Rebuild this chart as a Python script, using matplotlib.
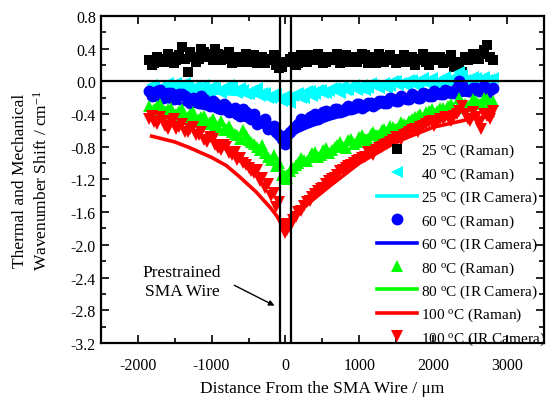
import matplotlib
matplotlib.use("Agg")
import matplotlib.pyplot as plt
from matplotlib.ticker import MultipleLocator
from matplotlib.lines import Line2D

plt.rcParams['font.family'] = ['Liberation Serif', 'DejaVu Serif']
plt.rcParams['mathtext.fontset'] = 'custom'
plt.rcParams['mathtext.rm'] = 'Liberation Serif'
plt.rcParams['mathtext.it'] = 'Liberation Serif:italic'
plt.rcParams['axes.unicode_minus'] = False

# ---------------- data ----------------
# Raman measurements, scan A
x_raman = [-1850, -1775, -1700, -1625, -1550, -1475, -1400, -1325, -1250, -1175,
           -1100, -1025, -950, -875, -800, -725, -650, -575, -500, -425,
           -350, -275, -200, -125, -50, 25, 100, 175, 250, 325,
           400, 475, 550, 625, 700, 775, 850, 925, 1000, 1075,
           1150, 1225, 1300, 1375, 1450, 1525, 1600, 1675, 1750, 1825,
           1900, 1975, 2050, 2125, 2200, 2275, 2350, 2425, 2500, 2575,
           2650, 2725, 2800]

y_25_raman = [0.26, 0.22, 0.28, 0.24, 0.30, 0.26, 0.42, 0.12, 0.30, 0.28,
              0.36, 0.34, 0.40, 0.26, 0.32, 0.22, 0.30, 0.28, 0.24, 0.32,
              0.26, 0.22, 0.28, 0.20, 0.18, 0.24, 0.30, 0.22, 0.28, 0.32,
              0.26, 0.30, 0.24, 0.28, 0.34, 0.26, 0.24, 0.30, 0.28, 0.32,
              0.26, 0.22, 0.30, 0.26, 0.28, 0.24, 0.32, 0.26, 0.20, 0.28,
              0.24, 0.30, 0.26, 0.22, 0.28, 0.18, 0.24, 0.30, 0.28, 0.32,
              0.34, 0.44, 0.26]

y_40_raman = [-0.10, -0.06, -0.12, -0.04, -0.08, -0.02, -0.10, -0.06, -0.12, -0.08,
              -0.04, -0.12, -0.08, -0.14, -0.10, -0.06, -0.14, -0.10, -0.16, -0.12,
              -0.18, -0.14, -0.20, -0.16, -0.24, -0.20, -0.18, -0.14, -0.20, -0.12,
              -0.16, -0.10, -0.14, -0.08, -0.12, -0.06, -0.10, -0.04, -0.08, -0.10,
              -0.02, -0.06, -0.04, -0.08, 0.00, -0.04, -0.02, 0.02, -0.04, 0.00,
              -0.02, 0.04, -0.02, 0.02, 0.00, 0.06, 0.12, 0.02, -0.02, 0.04,
              0.00, 0.02, 0.04]

y_60_raman = [-0.12, -0.16, -0.10, -0.18, -0.14, -0.20, -0.16, -0.24, -0.20, -0.26,
              -0.22, -0.30, -0.26, -0.34, -0.30, -0.36, -0.40, -0.34, -0.44, -0.40,
              -0.50, -0.46, -0.56, -0.62, -0.70, -0.66, -0.58, -0.52, -0.48, -0.44,
              -0.40, -0.42, -0.36, -0.38, -0.34, -0.36, -0.30, -0.32, -0.28, -0.30,
              -0.26, -0.28, -0.24, -0.26, -0.22, -0.24, -0.20, -0.22, -0.18, -0.20,
              -0.16, -0.18, -0.14, -0.16, -0.12, -0.14, 0.00, -0.10, -0.12, -0.08,
              -0.10, -0.14, -0.08]

y_80_raman = [-0.30, -0.34, -0.28, -0.36, -0.32, -0.40, -0.34, -0.44, -0.38, -0.46,
              -0.42, -0.50, -0.54, -0.48, -0.58, -0.62, -0.66, -0.60, -0.72, -0.76,
              -0.84, -0.88, -0.96, -1.04, -1.14, -1.18, -1.06, -1.00, -0.96, -0.92,
              -0.86, -0.90, -0.82, -0.84, -0.78, -0.80, -0.72, -0.76, -0.68, -0.70,
              -0.64, -0.66, -0.60, -0.62, -0.56, -0.58, -0.52, -0.48, -0.44, -0.40,
              -0.38, -0.34, -0.36, -0.32, -0.30, -0.34, -0.20, -0.28, -0.30, -0.24,
              -0.28, -0.22, -0.24]

y_100_raman = [-0.46, -0.50, -0.44, -0.54, -0.48, -0.58, -0.52, -0.62, -0.56, -0.66,
               -0.72, -0.68, -0.78, -0.84, -0.80, -0.90, -0.96, -1.00, -1.06, -1.12,
               -1.22, -1.30, -1.40, -1.54, -1.74, -1.82, -1.70, -1.60, -1.52, -1.46,
               -1.38, -1.32, -1.26, -1.20, -1.14, -1.08, -1.04, -1.00, -0.96, -0.92,
               -0.88, -0.84, -0.80, -0.76, -0.72, -0.70, -0.66, -0.62, -0.58, -0.56,
               -0.52, -0.48, -0.50, -0.46, -0.44, -0.42, -0.36, -0.40, -0.48, -0.44,
               -0.58, -0.42, -0.36]

# Raman measurements, scan B (interleaved positions)
x_raman_b = [-1812, -1737, -1662, -1587, -1512, -1437, -1362, -1287, -1212, -1137,
             -1062, -987, -912, -837, -762, -687, -612, -537, -462, -387,
             -312, -237, -162, -87, -12, 63, 138, 213, 288, 363,
             438, 513, 588, 663, 738, 813, 888, 963, 1038, 1113,
             1188, 1263, 1338, 1413, 1488, 1563, 1638, 1713, 1788, 1863,
             1938, 2013, 2088, 2163, 2238, 2313, 2388, 2463, 2538, 2613,
             2688, 2763]

y_25_raman_b = [0.20, 0.30, 0.24, 0.34, 0.22, 0.32, 0.28, 0.36, 0.24, 0.40,
                0.30, 0.26, 0.34, 0.28, 0.36, 0.30, 0.24, 0.34, 0.28, 0.22,
                0.30, 0.26, 0.32, 0.16, 0.24, 0.28, 0.20, 0.32, 0.24, 0.30,
                0.34, 0.22, 0.30, 0.26, 0.22, 0.32, 0.28, 0.24, 0.34, 0.22,
                0.30, 0.34, 0.24, 0.32, 0.22, 0.28, 0.24, 0.30, 0.26, 0.34,
                0.20, 0.26, 0.30, 0.24, 0.32, 0.22, 0.12, 0.26, 0.34, 0.28,
                0.38, 0.30]

y_40_raman_b = [-0.04, -0.12, -0.08, -0.02, -0.10, -0.06, -0.02, -0.12, -0.06, -0.10,
                -0.14, -0.06, -0.12, -0.08, -0.04, -0.12, -0.08, -0.16, -0.12, -0.08,
                -0.14, -0.20, -0.16, -0.22, -0.18, -0.26, -0.16, -0.20, -0.12, -0.18,
                -0.10, -0.14, -0.12, -0.08, -0.14, -0.10, -0.06, -0.10, -0.04, -0.08,
                -0.04, -0.08, -0.02, -0.06, 0.00, -0.02, -0.06, 0.02, -0.02, 0.04,
                0.00, -0.04, 0.02, 0.06, -0.02, 0.04, 0.08, 0.00, 0.06, 0.02,
                0.06, 0.00]

y_60_raman_b = [-0.18, -0.12, -0.20, -0.14, -0.22, -0.16, -0.18, -0.26, -0.22, -0.18,
                -0.28, -0.24, -0.32, -0.28, -0.38, -0.32, -0.42, -0.38, -0.46, -0.52,
                -0.48, -0.58, -0.54, -0.66, -0.76, -0.62, -0.54, -0.46, -0.50, -0.42,
                -0.46, -0.38, -0.40, -0.34, -0.38, -0.32, -0.34, -0.28, -0.32, -0.26,
                -0.30, -0.24, -0.26, -0.20, -0.24, -0.18, -0.22, -0.16, -0.20, -0.14,
                -0.18, -0.12, -0.16, -0.10, -0.14, -0.08, -0.04, -0.12, -0.08, -0.12,
                -0.06, -0.10]

y_80_raman_b = [-0.36, -0.30, -0.38, -0.34, -0.42, -0.36, -0.46, -0.40, -0.48, -0.44,
                -0.52, -0.46, -0.56, -0.60, -0.54, -0.64, -0.70, -0.66, -0.74, -0.80,
                -0.78, -0.92, -0.90, -1.00, -1.20, -1.10, -1.02, -0.94, -0.98, -0.88,
                -0.92, -0.84, -0.88, -0.80, -0.74, -0.82, -0.70, -0.74, -0.66, -0.72,
                -0.62, -0.68, -0.58, -0.54, -0.60, -0.50, -0.54, -0.46, -0.42, -0.46,
                -0.36, -0.40, -0.32, -0.36, -0.28, -0.32, -0.26, -0.30, -0.22, -0.28,
                -0.20, -0.26]

y_100_raman_b = [-0.42, -0.52, -0.48, -0.58, -0.46, -0.56, -0.62, -0.58, -0.66, -0.62,
                 -0.74, -0.70, -0.82, -0.78, -0.88, -0.86, -0.94, -1.02, -1.10, -1.08,
                 -1.18, -1.26, -1.36, -1.48, -1.86, -1.78, -1.66, -1.58, -1.48, -1.42,
                 -1.34, -1.30, -1.22, -1.18, -1.10, -1.06, -1.02, -0.98, -0.94, -0.86,
                 -0.90, -0.82, -0.78, -0.74, -0.68, -0.72, -0.64, -0.60, -0.62, -0.54,
                 -0.50, -0.54, -0.46, -0.44, -0.48, -0.40, -0.30, -0.46, -0.38, -0.52,
                 -0.40, -0.46]

# IR camera profiles
x_ir = [-1810, -1500, -1300, -1000, -800, -630, -400, -200, -90,
        0, 100, 300, 600, 1000, 1500, 2000, 2500, 2800]
y_25_ir = [-0.12, -0.12, -0.13, -0.14, -0.15, -0.16, -0.17, -0.19, -0.20,
           -0.20, -0.19, -0.17, -0.14, -0.09, -0.05, -0.02, 0.00, 0.01]
y_60_ir = [-0.22, -0.26, -0.29, -0.35, -0.40, -0.45, -0.52, -0.60, -0.66,
           -0.68, -0.64, -0.56, -0.46, -0.36, -0.27, -0.20, -0.16, -0.14]
y_80_ir = [-0.36, -0.42, -0.47, -0.56, -0.64, -0.72, -0.84, -0.98, -1.08,
           -1.12, -1.06, -0.96, -0.86, -0.70, -0.54, -0.38, -0.30, -0.26]
y_100_ir = [-0.67, -0.74, -0.81, -0.93, -1.03, -1.16, -1.35, -1.55, -1.68,
            -1.72, -1.66, -1.50, -1.28, -1.00, -0.74, -0.56, -0.46, -0.42]

wire_edges = [-70, 75]

# ---------------- plot ----------------
fig = plt.figure(figsize=(5.47, 4.06), dpi=100)
ax = fig.add_axes([0.184, 0.153, 0.811, 0.805])

lw_ir = 2.6
ax.plot(x_ir, y_25_ir, color='#00FFFF', lw=lw_ir, zorder=2)
ax.plot(x_ir, y_60_ir, color='#0000FF', lw=lw_ir, zorder=2)
ax.plot(x_ir, y_80_ir, color='#00FF00', lw=lw_ir, zorder=2)
ax.plot(x_ir, y_100_ir, color='#FF0000', lw=lw_ir, zorder=2)

styles = [
    (y_25_raman, y_25_raman_b, 's', 'black', 7.5),
    (y_40_raman, y_40_raman_b, '<', '#00FFFF', 9),
    (y_60_raman, y_60_raman_b, 'o', '#0000FF', 8.5),
    (y_80_raman, y_80_raman_b, '^', '#00FF00', 9),
    (y_100_raman, y_100_raman_b, 'v', '#FF0000', 9),
]
for ya, yb, mk, col, ms in styles:
    ax.plot(x_raman, ya, mk, color=col, ms=ms, mew=0, zorder=3)
    ax.plot(x_raman_b, yb, mk, color=col, ms=ms, mew=0, zorder=3)

for xe in wire_edges:
    ax.axvline(xe, color='black', lw=1.6, zorder=4)
ax.axhline(0, color='black', lw=1.6, zorder=4)

ax.set_xlim(-2500, 3500)
ax.set_ylim(-3.2, 0.8)
ax.xaxis.set_major_locator(MultipleLocator(1000))
ax.xaxis.set_minor_locator(MultipleLocator(500))
ax.yaxis.set_major_locator(MultipleLocator(0.4))
ax.yaxis.set_minor_locator(MultipleLocator(0.2))
ax.set_xticks([-2000, -1000, 0, 1000, 2000, 3000])
ax.set_yticks([0.8, 0.4, 0.0, -0.4, -0.8, -1.2, -1.6, -2.0, -2.4, -2.8, -3.2])
ax.set_yticklabels(['0.8', '0.4', '0.0', '-0.4', '-0.8', '-1.2', '-1.6', '-2.0',
                    '-2.4', '-2.8', '-3.2'])
ax.tick_params(which='both', direction='in', top=True, right=True, width=1.2,
               labelsize=11.5)
ax.tick_params(axis='x', which='major', pad=10)
ax.tick_params(which='major', length=6)
ax.tick_params(which='minor', length=3.5)
for s in ax.spines.values():
    s.set_linewidth(1.6)

ax.set_xlabel('Distance From the SMA Wire / \u03bcm', fontsize=12.5, labelpad=5)
ax.set_ylabel('Thermal and Mechanical\nWavenumber Shift / cm$^{-1}$',
              fontsize=12.5, labelpad=14, linespacing=1.35)

ax.annotate('', xy=(-115, -2.76), xytext=(-725, -2.48),
            arrowprops=dict(arrowstyle='-|>', color='black', lw=1,
                            mutation_scale=8), zorder=5)
ax.text(-1400, -2.45, 'Prestrained\nSMA Wire', ha='center', va='center',
        fontsize=12.5, linespacing=1.2)

# legend (order & labels as in the original figure)
handles = [
    Line2D([], [], ls='none', marker='s', color='black', ms=7.5, mew=0),
    Line2D([], [], ls='none', marker='<', color='#00FFFF', ms=9, mew=0),
    Line2D([], [], color='#00FFFF', lw=lw_ir),
    Line2D([], [], ls='none', marker='o', color='#0000FF', ms=8.5, mew=0),
    Line2D([], [], color='#0000FF', lw=lw_ir),
    Line2D([], [], ls='none', marker='^', color='#00FF00', ms=9, mew=0),
    Line2D([], [], color='#00FF00', lw=lw_ir),
    Line2D([], [], color='#FF0000', lw=lw_ir),
    Line2D([], [], ls='none', marker='v', color='#FF0000', ms=9, mew=0),
]
labels = [
    '25 $^{\\rm o}$C (Raman)',
    '40 $^{\\rm o}$C (Raman)',
    '25 $^{\\rm o}$C (IR Camera)',
    '60 $^{\\rm o}$C (Raman)',
    '60 $^{\\rm o}$C (IR Camera)',
    '80 $^{\\rm o}$C (Raman)',
    '80 $^{\\rm o}$C (IR Camera)',
    '100 $^{\\rm o}$C (Raman)',
    '100 $^{\\rm o}$C (IR Camera)',
]
fig.legend(handles, labels, loc='upper left', bbox_to_anchor=(0.689, 0.648),
           frameon=False, fontsize=11, handlelength=2.6, handletextpad=0.3,
           labelspacing=0.4, borderpad=0, borderaxespad=0)

fig.savefig('out.png', dpi=100)
